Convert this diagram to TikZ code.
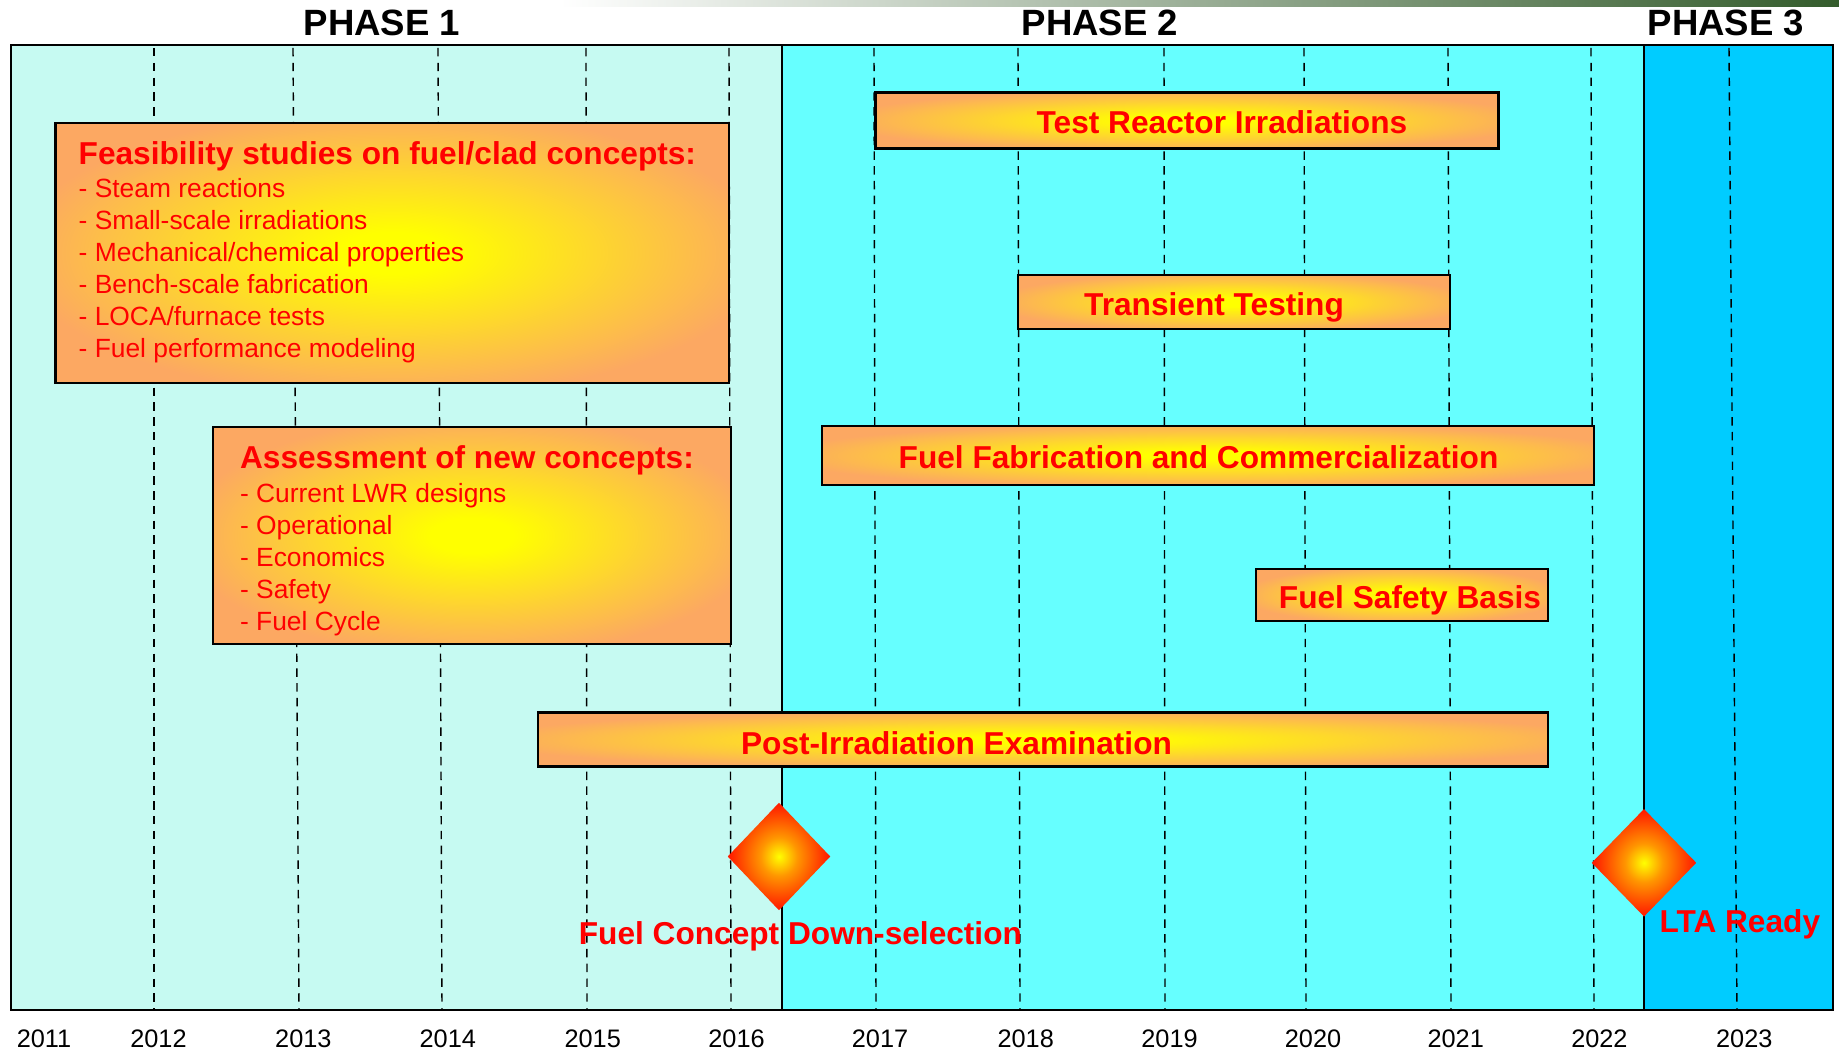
\documentclass[tikz,border=0pt]{standalone}
\usepackage{fontspec}
\setmainfont{Liberation Sans}
\usetikzlibrary{shapes.geometric}
\definecolor{phaseone}{RGB}{198,250,242}
\definecolor{phasetwo}{RGB}{102,255,255}
\definecolor{phasethree}{RGB}{0,204,255}
\definecolor{boxorange}{RGB}{252,168,98}
\definecolor{sparkorange}{RGB}{255,150,0}
\definecolor{sparkred}{RGB}{255,30,0}
\definecolor{midgrey}{RGB}{160,172,156}
\definecolor{topgreen}{RGB}{52,92,44}
\pgfdeclareradialshading{glow}{\pgfpointorigin}{color(0bp)=(yellow); color(4bp)=(yellow); color(28bp)=(boxorange); color(50bp)=(boxorange)}
\pgfdeclareradialshading{spark}{\pgfpointorigin}{color(0bp)=(yellow); color(9bp)=(sparkorange); color(24bp)=(sparkred); color(50bp)=(sparkred)}
\begin{document}
\begin{tikzpicture}[
      x=0.01cm, y=-0.01cm,
      phase/.style={draw=black, line width=0.5pt},
      gridline/.style={line width=0.4pt, dash pattern=on 2.4pt off 1.8pt},
      task/.style={draw, line width=0.7pt, shade, shading=glow, inner sep=0pt},
      milestone/.style={diamond, shade, shading=spark, inner sep=0pt},
      phasename/.style={anchor=base, inner sep=0pt, font=\fontsize{10.4}{12}\selectfont\bfseries},
      year/.style={anchor=base, inner sep=0pt, font=\fontsize{7.2}{9}\selectfont},
      tasktext/.style={anchor=base, inner sep=0pt, text=red, font=\fontsize{9}{11}\selectfont\bfseries},
      heading/.style={anchor=base west, inner sep=0pt, text=red, font=\fontsize{9}{11}\selectfont\bfseries},
      item/.style={anchor=base west, inner sep=0pt, text=red, font=\fontsize{7.5}{9}\selectfont}
    ]
    \useasboundingbox (0,0) rectangle (1839,1052);
    % phases
    \fill[white] (0,0) rectangle (1839,1052);
    \shade[left color=white, middle color=midgrey, right color=topgreen] (560,0) rectangle (1839,7);
    \draw[phase, fill=phaseone] (11,45) rectangle (782,1010);
    \draw[phase, fill=phasetwo] (782,45) rectangle (1644,1010);
    \draw[phase, fill=phasethree] (1644,45) rectangle (1833,1010);
    \node[phasename] (p1) at (382,36) {PHASE 1};
    \node[phasename] (p2) at (1100,36) {PHASE 2};
    \node[phasename] (p3) at (1726,36) {PHASE 3};
    % years
    \draw[gridline] (154,48) -- (154,1010);
    \draw[gridline] (293,48) -- (299,1010);
    \draw[gridline] (438,48) -- (442,1010);
    \draw[gridline] (586,48) -- (587,1010);
    \draw[gridline] (729,48) -- (731,1010);
    \draw[gridline] (874,48) -- (876,1010);
    \draw[gridline] (1018,48) -- (1020,1010);
    \draw[gridline] (1164,48) -- (1165,1010);
    \draw[gridline] (1304,48) -- (1306,1010);
    \draw[gridline] (1448,48) -- (1451,1010);
    \draw[gridline] (1591,48) -- (1594,1010);
    \draw[gridline] (1729,48) -- (1737,1010);
    \node[year] (y2011) at (44,1047) {2011};
    \node[year] (y2012) at (158.5,1047) {2012};
    \node[year] (y2013) at (303.4,1047) {2013};
    \node[year] (y2014) at (447.8,1047) {2014};
    \node[year] (y2015) at (592.7,1047) {2015};
    \node[year] (y2016) at (736.5,1047) {2016};
    \node[year] (y2017) at (880,1047) {2017};
    \node[year] (y2018) at (1025.7,1047) {2018};
    \node[year] (y2019) at (1169.5,1047) {2019};
    \node[year] (y2020) at (1313,1047) {2020};
    \node[year] (y2021) at (1455.7,1047) {2021};
    \node[year] (y2022) at (1599.4,1047) {2022};
    \node[year] (y2023) at (1744.3,1047) {2023};
    % phase 1 boxes
    \node[task, minimum width=6.73cm, minimum height=2.594cm] (fs) at (392.3,253) {};
    \node[heading] (fsh) at (78,165) {Feasibility studies on fuel/clad concepts:};
    \node[item] (fs1) at (78,198) {- Steam reactions};
    \node[item] (fs2) at (78,230) {- Small-scale irradiations};
    \node[item] (fs3) at (78,262) {- Mechanical/chemical properties};
    \node[item] (fs4) at (78,294) {- Bench-scale fabrication};
    \node[item] (fs5) at (78,326) {- LOCA/furnace tests};
    \node[item] (fs6) at (78,358) {- Fuel performance modeling};
    \node[task, minimum width=5.176cm, minimum height=2.167cm] (as) at (471.8,535.4) {};
    \node[heading] (ash) at (239.4,468.6) {Assessment of new concepts:};
    \node[item] (as1) at (239.4,502.7) {- Current LWR designs};
    \node[item] (as2) at (239.4,534.7) {- Operational};
    \node[item] (as3) at (239.4,566.7) {- Economics};
    \node[item] (as4) at (239.4,598.7) {- Safety};
    \node[item] (as5) at (239.4,630.7) {- Fuel Cycle};
    % bars
    \node[task, minimum width=6.226cm, minimum height=0.564cm] (tri) at (1186.9,120.5) {};
    \node[tasktext] at (1222,134) {Test Reactor Irradiations};
    \node[task, minimum width=4.317cm, minimum height=0.54cm] (tt) at (1233.9,302) {};
    \node[tasktext] at (1214,316) {Transient Testing};
    \node[task, minimum width=7.718cm, minimum height=0.586cm] (ffc) at (1208.1,455.5) {};
    \node[tasktext] at (1198.5,468.6) {Fuel Fabrication and Commercialization};
    \node[task, minimum width=2.916cm, minimum height=0.516cm] (fsb) at (1402.1,595) {};
    \node[tasktext] at (1410,608.7) {Fuel Safety Basis};
    \node[task, minimum width=10.098cm, minimum height=0.54cm] (pie) at (1043,739.7) {};
    \node[tasktext] at (956.5,754) {Post-Irradiation Examination};
    % milestones
    \node[milestone, minimum width=1.03cm, minimum height=1.08cm] (d1) at (779,856.5) {};
    \node[tasktext] (d1t) at (800.4,944) {Fuel Concept Down-selection};
    \node[milestone, minimum width=1.05cm, minimum height=1.08cm] (d2) at (1644,862.8) {};
    \node[tasktext] (d2t) at (1739.8,932) {LTA Ready};
  \end{tikzpicture}
\end{document}
